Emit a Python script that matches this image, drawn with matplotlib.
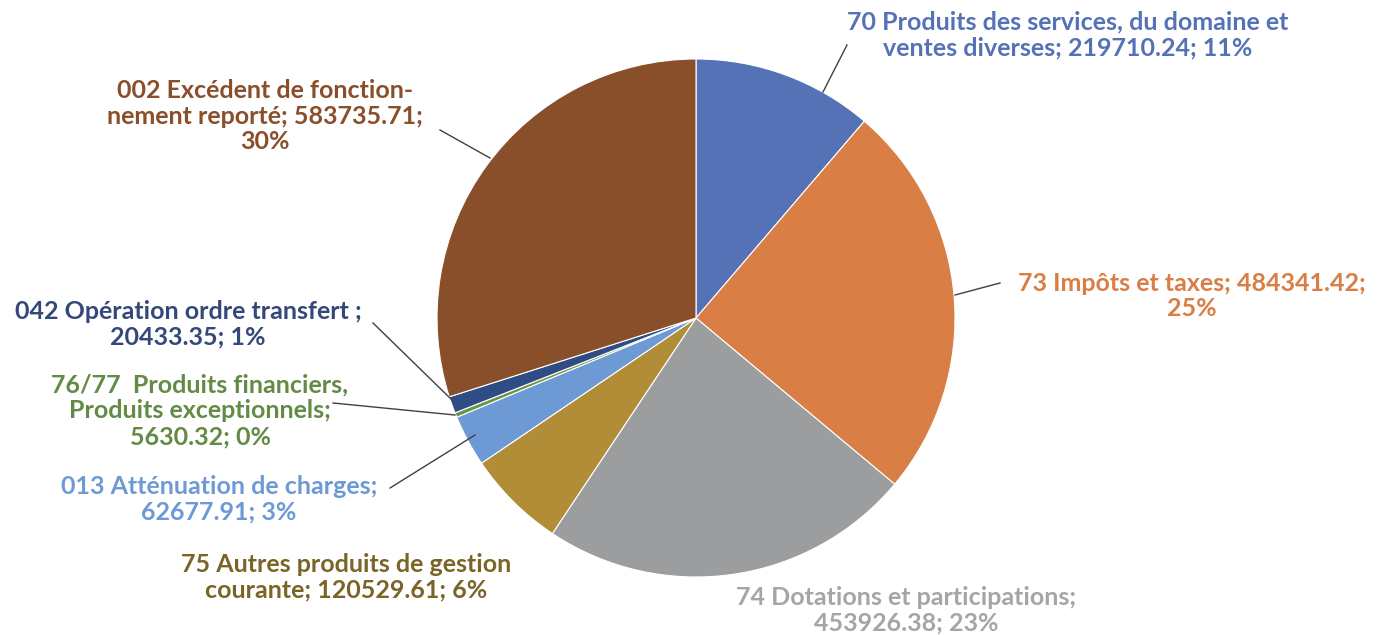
import matplotlib
matplotlib.use("Agg")
import matplotlib.pyplot as plt

categories = ["70 Produits des services, du domaine et\nventes diverses",
              "73 Impôts et taxes",
              "74 Dotations et participations",
              "75 Autres produits de gestion\ncourante",
              "013 Atténuation de charges",
              "76/77  Produits financiers,\nProduits exceptionnels",
              "042 Opération ordre transfert ",
              "002 Excédent de fonction-\nnement reporté"]
values = [219710.24, 484341.42, 453926.38, 120529.61, 62677.91, 5630.32, 20433.35, 583735.71]
label_texts = ["70 Produits des services, du domaine et\nventes diverses; 219710.24; 11%",
               "73 Impôts et taxes; 484341.42;\n25%",
               "74 Dotations et participations;\n453926.38; 23%",
               "75 Autres produits de gestion\ncourante; 120529.61; 6%",
               "013 Atténuation de charges;\n62677.91; 3%",
               "76/77  Produits financiers,\nProduits exceptionnels;\n5630.32; 0%",
               "042 Opération ordre transfert ;\n20433.35; 1%",
               "002 Excédent de fonction-\nnement reporté; 583735.71;\n30%"]

colors = ["#5572B6", "#D97E45", "#9B9D9F", "#B08D36", "#6D9AD4", "#689645", "#304C84", "#894E2A"]
text_colors = ["#5572B6", "#D97E45", "#A3A5A7", "#7A6426", "#6D9AD4", "#638B45", "#34497A", "#894E2A"]

W, H = 1385, 635
fig = plt.figure(figsize=(W / 100, H / 100), dpi=100)
ax = fig.add_axes([0, 0, 1, 1])

cx, cy, r = 696, H - 318, 259
ax.pie(values, colors=colors, startangle=90, counterclock=False,
       center=(cx, cy), radius=r,
       wedgeprops=dict(edgecolor="white", linewidth=0.8))
ax.set_xlim(0, W)
ax.set_ylim(0, H)
ax.set_aspect("equal")
ax.axis("off")

# label positions (text center, pixel coords from top) and leader lines
label_pos = [(1068, 35), (1192, 296), (906, 610), (346, 577),
             (219, 499), (200, 411), (188, 324), (265, 116)]
leaders = [((847, 45), (823, 92)), ((1000, 283), (955, 295)), None, None,
           ((390, 488), (475, 435)), ((333, 403), (455, 415)),
           ((373, 323), (452, 400)), ((440, 130), (490, 158))]

for txt, (x, y), c in zip(label_texts, label_pos, text_colors):
    ax.text(x, H - y, txt, ha="center", va="center", color=c,
            fontsize=18, fontweight="bold", family=["Lato", "DejaVu Sans"],
            linespacing=1.15)

for ld in leaders:
    if ld is None:
        continue
    (x0, y0), (x1, y1) = ld
    ax.plot([x0, x1], [H - y0, H - y1], color="#404040", lw=1)

fig.savefig("out.png", dpi=100)
